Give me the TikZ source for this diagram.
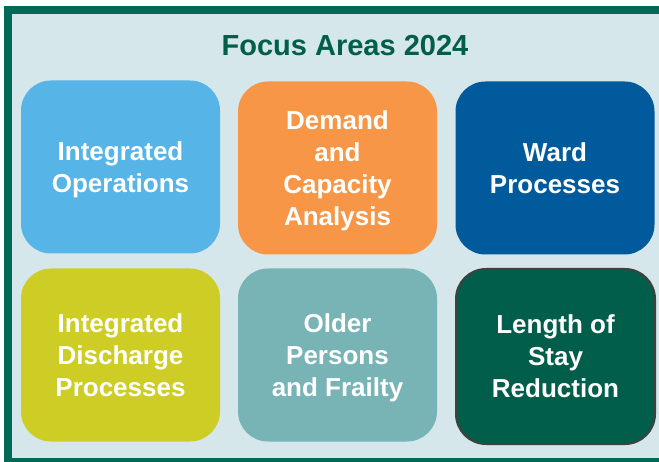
\documentclass[tikz,border=0pt]{standalone}
\usepackage{fontspec}
\setmainfont{Liberation Sans}
\definecolor{frame}{HTML}{006A56}
\definecolor{paper}{HTML}{D5E7EA}
\definecolor{title}{HTML}{005E4B}
\definecolor{sky}{HTML}{56B4E6}
\definecolor{orange}{HTML}{F79646}
\definecolor{navy}{HTML}{005A9C}
\definecolor{lime}{HTML}{CDCD26}
\definecolor{teal}{HTML}{78B3B5}
\definecolor{forest}{HTML}{005E4B}
\tikzset{
  area/.style={rounded corners=30pt, minimum width=199pt, minimum height=173pt,
    text=white, align=center, font=\fontsize{26}{32}\selectfont\bfseries,
    inner sep=0pt, text depth=-2pt}
}
\begin{document}
\begin{tikzpicture}[x=1pt, y=-1pt]
\useasboundingbox (0,0) rectangle (659,462);
\begin{scope}
\clip (0,0) rectangle (659,462);
\fill[frame] (4,6) rectangle (680,480);
\fill[paper] (12,14) rectangle (680,458);
\end{scope}

\coordinate (A) at (120.5,167);
\coordinate (B) at (337.5,168);
\coordinate (C) at (555,168);
\coordinate (D) at (120.5,355);
\coordinate (E) at (337.5,355);
\coordinate (F) at (555.5,356.5);

\node[text=title, font=\fontsize{29}{32}\selectfont\bfseries] (T) at (345,46) {Focus Areas 2024};

\node[area, fill=sky   ] (ops)  at (A) {Integrated\\Operations};
\node[area, fill=orange] (dem)  at (B) {Demand\\and\\Capacity\\Analysis};
\node[area, fill=navy  ] (ward) at (C) {Ward\\Processes};
\node[area, fill=lime  ] (dis)  at (D) {Integrated\\Discharge\\Processes};
\node[area, fill=teal  ] (old)  at (E) {Older\\Persons\\and Frailty};
\node[area, fill=forest, draw=black!75, line width=2pt, minimum width=199pt, minimum height=175pt] (los) at (F) {Length of\\Stay\\Reduction};
\end{tikzpicture}
\end{document}
